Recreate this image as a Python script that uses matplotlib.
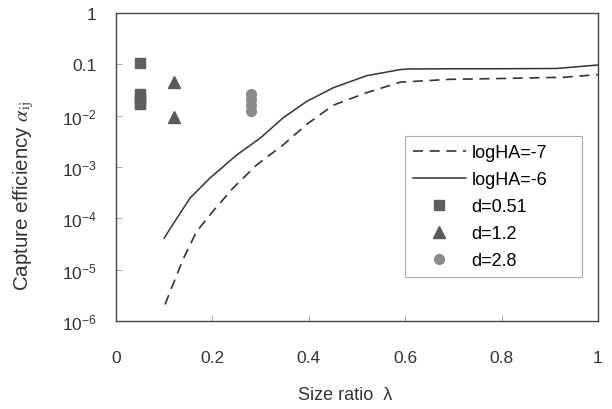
import matplotlib
matplotlib.use("Agg")
import matplotlib.pyplot as plt

plt.rcParams['font.family'] = ['Liberation Sans', 'DejaVu Sans']
plt.rcParams['mathtext.fontset'] = 'custom'
plt.rcParams['mathtext.rm'] = 'Liberation Sans'
plt.rcParams['mathtext.it'] = 'Liberation Sans:italic'
plt.rcParams['mathtext.bf'] = 'Liberation Sans:bold'

# Curves
x_ha7 = [0.102, 0.112, 0.14, 0.167, 0.202, 0.243, 0.292, 0.347, 0.396, 0.451, 0.52, 0.59, 0.694, 0.80, 0.93, 1.0]
y_ha7 = [2.1e-6, 3.7e-6, 1.65e-5, 5.5e-5, 1.4e-4, 3.9e-4, 1.1e-3, 2.7e-3, 6.8e-3, 1.6e-2, 2.8e-2, 4.5e-2, 5.1e-2, 5.3e-2, 5.6e-2, 6.3e-2]
x_ha6 = [0.10, 0.115, 0.154, 0.195, 0.25, 0.30, 0.347, 0.396, 0.451, 0.52, 0.59, 0.604, 0.694, 0.80, 0.915, 1.0]
y_ha6 = [4.1e-5, 6.9e-5, 2.5e-4, 6.1e-4, 1.7e-3, 3.7e-3, 9.1e-3, 1.9e-2, 3.5e-2, 6.0e-2, 7.9e-2, 8.1e-2, 8.2e-2, 8.2e-2, 8.3e-2, 9.7e-2]

# Experimental points
x_d051 = [0.05, 0.05, 0.05, 0.05, 0.05]
y_d051 = [0.105, 0.026, 0.022, 0.019, 0.0165]
x_d12 = [0.12, 0.12]
y_d12 = [0.045, 0.0095]
x_d28 = [0.28, 0.28, 0.28, 0.28]
y_d28 = [0.026, 0.021, 0.016, 0.0125]

x_ticks = [0, 0.2, 0.4, 0.6, 0.8, 1]
x_ticklabels = ['0', '0.2', '0.4', '0.6', '0.8', '1']
y_ticks = [1e-6, 1e-5, 1e-4, 1e-3, 1e-2, 1e-1, 1]
y_ticklabels = ['$10^{-6}$', '$10^{-5}$', '$10^{-4}$', '$10^{-3}$', '$10^{-2}$', '0.1', '1']

fig = plt.figure(figsize=(6.12, 4.10), dpi=100)
ax = fig.add_axes([0.1895, 0.2146, 0.7875, 0.7513])

line_col = '#333333'
ax.plot(x_ha7, y_ha7, color=line_col, lw=1.2, dashes=(6, 4), label='logHA=-7')
ax.plot(x_ha6, y_ha6, color=line_col, lw=1.1, label='logHA=-6')
ax.plot(x_d051, y_d051, ls='none', marker='s', ms=7, color='#5e5e5e', label='d=0.51')
ax.plot(x_d12, y_d12, ls='none', marker='^', ms=8, color='#5a5a5a', label='d=1.2')
ax.plot(x_d28, y_d28, ls='none', marker='o', ms=7, color='#8a8a8a', label='d=2.8')

ax.set_yscale('log')
ax.set_xlim(0, 1)
ax.set_ylim(1e-6, 1)
ax.set_xticks(x_ticks)
ax.set_xticklabels(x_ticklabels, fontsize=12.5, color='#333333')
ax.set_yticks(y_ticks)
ax.set_yticklabels(y_ticklabels, fontsize=12.5, color='#333333')
ax.yaxis.set_minor_locator(matplotlib.ticker.NullLocator())
ax.tick_params(axis='both', direction='in', length=4, width=0.6, color='#999999')
ax.tick_params(axis='x', pad=21)
ax.tick_params(axis='y', pad=14)
for s in ax.spines.values():
    s.set_color('#444444')
    s.set_linewidth(1.0)

ax.set_xlabel('Size ratio  λ', fontsize=13, color='#333333')
ax.xaxis.set_label_coords(0.475, -0.24)
ax.xaxis.label.set_va('center')
ax.set_ylabel(r'Capture efficiency $\alpha_{\mathrm{ij}}$', fontsize=14.8, color='#333333')
ax.yaxis.label.set_math_fontfamily('stix')
ax.yaxis.set_label_coords(-0.191, 0.41)
ax.yaxis.label.set_va('center')

leg = ax.legend(loc='upper left', bbox_to_anchor=(0.6, 0.133, 0.367, 0.467), mode='expand',
                borderaxespad=0, fontsize=13, frameon=True, fancybox=False, handlelength=2.9,
                handletextpad=0.33, labelspacing=0.55, borderpad=0.45)
leg.get_frame().set_edgecolor('#999999')
leg.get_frame().set_linewidth(0.8)

fig.savefig('out.png', dpi=100)
